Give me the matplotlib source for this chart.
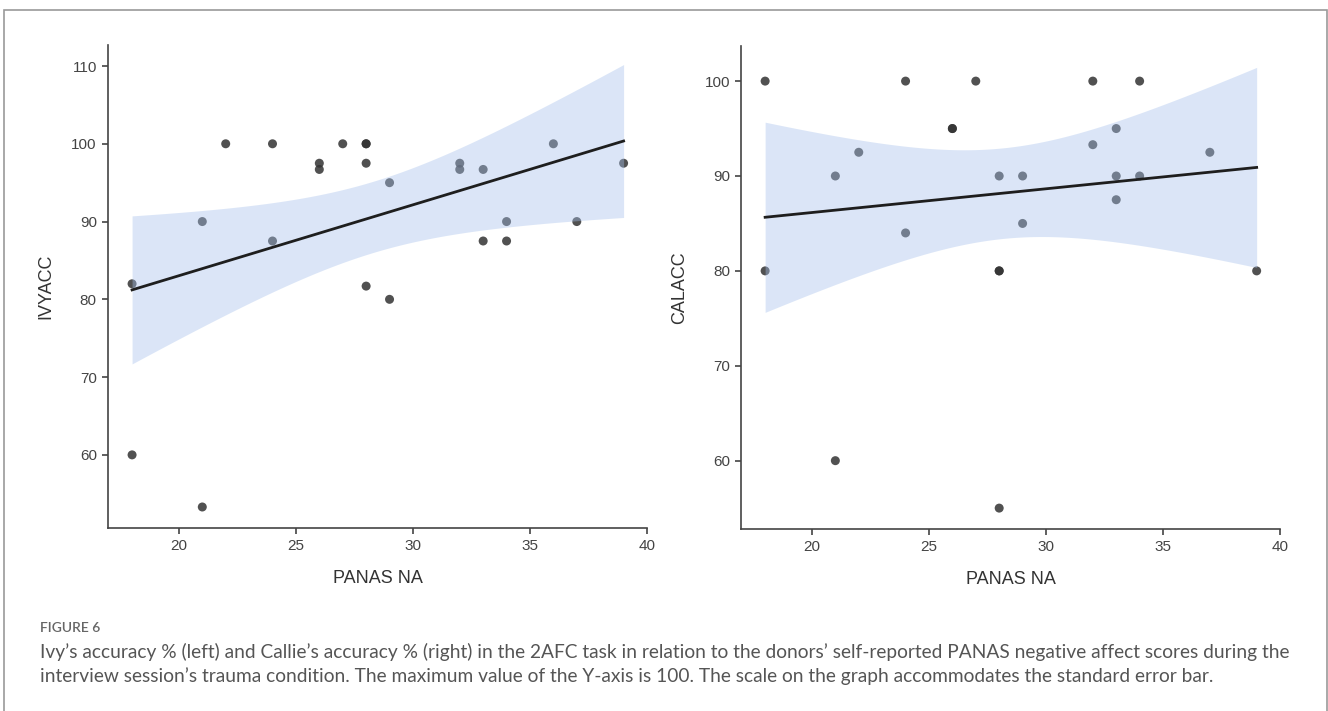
import numpy as np
import matplotlib
matplotlib.use('Agg')
import matplotlib.pyplot as plt
from matplotlib.patches import Rectangle

# 数据：PANAS NA 与两只犬的准确率
ivy_x = [18, 18, 21, 21, 22, 24, 24, 26, 26, 27, 28, 28, 28, 28, 29, 29,
         32, 32, 33, 33, 34, 34, 36, 37, 39]
ivy_y = [82, 60, 90, 53.3, 100, 100, 87.5, 97.5, 96.7, 100, 100, 100, 97.5, 81.7,
         95, 80, 97.5, 96.7, 96.7, 87.5, 90, 87.5, 100, 90, 97.5]

cal_x = [18, 18, 21, 21, 22, 24, 24, 26, 26, 27, 28, 28, 28, 28, 29, 29,
         32, 32, 33, 33, 33, 34, 34, 37, 39]
cal_y = [100, 80, 90, 60, 92.5, 100, 84, 95, 95, 100, 90, 80, 80, 55, 90, 85,
         100, 93.3, 95, 90, 87.5, 100, 90, 92.5, 80]

x_ticks = [20, 25, 30, 35, 40]
ivy_ticks = [60, 70, 80, 90, 100, 110]
cal_ticks = [60, 70, 80, 90, 100]

caption_title = 'FIGURE 6'
caption_text = ("Ivy\u2019s accuracy % (left) and Callie\u2019s accuracy % (right) in the 2AFC task "
                "in relation to the donors\u2019 self-reported PANAS negative affect scores during the\n"
                "interview session\u2019s trauma condition. The maximum value of the Y-axis is 100. "
                "The scale on the graph accommodates the standard error bar.")

T_CRIT = 2.069  # t(0.975, df=23)


def reg_panel(ax, x, y, ylabel, ylim, yticks):
    x = np.asarray(x, float)
    y = np.asarray(y, float)
    n = len(x)
    b, a = np.polyfit(x, y, 1)
    xs = np.linspace(x.min(), x.max(), 200)
    fit = a + b * xs
    resid = y - (a + b * x)
    s = np.sqrt(np.sum(resid ** 2) / (n - 2))
    sxx = np.sum((x - x.mean()) ** 2)
    se = s * np.sqrt(1.0 / n + (xs - x.mean()) ** 2 / sxx)

    ax.scatter(x, y, s=42, color='#333333', alpha=0.85, edgecolors='none', zorder=2)
    ax.fill_between(xs, fit - T_CRIT * se, fit + T_CRIT * se,
                    color='#a6c0ec', alpha=0.4, linewidth=0, zorder=3)
    ax.plot(xs, fit, color='#1e1e1e', lw=2, zorder=4)

    ax.set_xlim(16.97, 40)
    ax.set_ylim(*ylim)
    ax.set_xticks(x_ticks)
    ax.set_yticks(yticks)
    for side in ['top', 'right']:
        ax.spines[side].set_visible(False)
    for side in ['left', 'bottom']:
        ax.spines[side].set_color('#444444')
        ax.spines[side].set_linewidth(1.2)
    ax.tick_params(axis='both', direction='out', length=4, width=1.2,
                   color='#444444', labelcolor='#444444', labelsize=11, pad=4)
    ax.set_xlabel('PANAS NA', fontsize=13, color='#333333', labelpad=12)
    ax.set_ylabel(ylabel, fontsize=13, color='#333333', labelpad=12)


plt.rcParams['font.family'] = ['Liberation Sans', 'DejaVu Sans']

fig = plt.figure(figsize=(13.28, 7.11), dpi=100)

ax1 = fig.add_axes([0.0813, 0.2574, 0.4059, 0.6793])
ax2 = fig.add_axes([0.5580, 0.2560, 0.4059, 0.6793])

reg_panel(ax1, ivy_x, ivy_y, 'IVYACC', (50.6, 112.7), ivy_ticks)
reg_panel(ax2, cal_x, cal_y, 'CALACC', (52.8, 103.7), cal_ticks)

# 外框
fig.patches.append(Rectangle((4 / 1328, -0.02), 1323 / 1328, 1 - 10 / 711 + 0.02,
                             transform=fig.transFigure, fill=False,
                             edgecolor='#9a9a9a', linewidth=1.2))

# 图注
fig.text(40 / 1328, 1 - 628 / 711, caption_title, fontsize=10, color='#666666',
         family=['Lato', 'DejaVu Sans'], weight='semibold', va='center', ha='left')
fig.text(40 / 1328, 1 - 664 / 711, caption_text, fontsize=13.8, color='#555555',
         family=['Lato', 'DejaVu Sans'], va='center', ha='left', linespacing=1.45)

fig.savefig('out.png', dpi=100)
plt.close(fig)
